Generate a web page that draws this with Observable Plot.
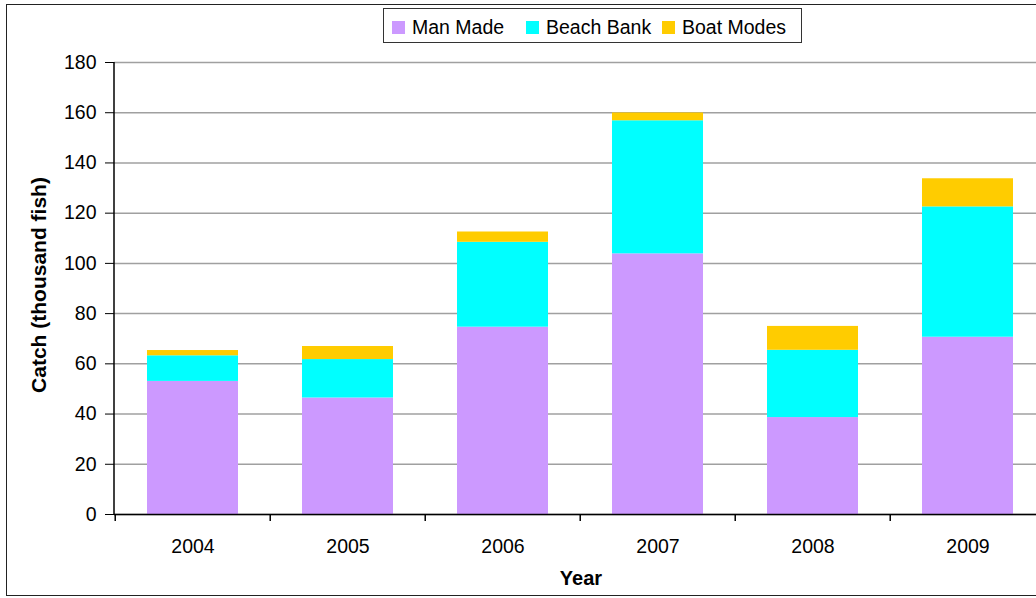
<!DOCTYPE html>
<html>
<head>
<meta charset="utf-8">
<script src="https://cdn.jsdelivr.net/npm/d3@7"></script>
<script src="https://cdn.jsdelivr.net/npm/@observablehq/plot@0.6"></script>
<style>
  html, body { margin: 0; padding: 0; background: #fff; overflow: hidden; }
  #wrap { position: relative; width: 1036px; height: 598px; overflow: hidden; font-family: "Liberation Sans", Arial, sans-serif; color: #000; }
  #frame { position: absolute; left: 6px; top: 4px; width: 1100px; height: 592px; box-sizing: border-box; border: 1.5px solid #222; pointer-events: none; }
  #chart { position: absolute; left: 0; top: 0; width: 1060px; height: 598px; }
  #chart svg { max-width: none !important; display: block; }
  .title { position: absolute; font-weight: bold; font-size: 20px; line-height: 20px; white-space: nowrap; }
  #legend { position: absolute; left: 383px; top: 8px; width: 419px; height: 35px; box-sizing: border-box; border: 1px solid #333; background: #fff; }
  .sw { position: absolute; width: 13px; height: 13px; top: 12px; }
  .lt { position: absolute; top: 8px; font-size: 19.5px; line-height: 20px; white-space: nowrap; }
</style>
</head>
<body>
<div id="wrap">
  <div id="chart"></div>
  <div id="legend"></div>
  <div class="title" id="ytitle" style="left:39px; top:285px; font-size:21px; transform: translate(-50%,-50%) rotate(-90deg);">Catch (thousand fish)</div>
  <div class="title" id="xtitle" style="left:581px; top:568px; transform: translateX(-50%);">Year</div>
  <div id="frame"></div>
</div>
<script>
const years = ["2004", "2005", "2006", "2007", "2008", "2009"];
const series = ["Man Made", "Beach Bank", "Boat Modes"];
const colors = ["#cc99ff", "#00ffff", "#ffcc00"];
const manMade   = [53.0, 46.4, 74.6, 103.8, 38.6, 70.6];
const beachBank = [10.2, 15.3, 33.8, 53.0, 26.8, 51.9];
const boatModes = [2.1, 5.2, 4.1, 3.1, 9.5, 11.2];
const yTicks = [0, 20, 40, 60, 80, 100, 120, 140, 160, 180];

const seriesValues = [manMade, beachBank, boatModes];
const data = [];
years.forEach((yr, i) => {
  series.forEach((s, j) => data.push({year: yr, series: s, value: seriesValues[j][i]}));
});

const chart = Plot.plot({
  width: 1060,
  height: 598,
  marginLeft: 114,
  marginRight: 13,
  marginTop: 62,
  marginBottom: 84,
  x: {domain: years, paddingInner: 0.41, paddingOuter: 0.205, label: null},
  y: {domain: [0, 180], label: null},
  color: {domain: series, range: colors},
  style: {fontFamily: "'Liberation Sans', Arial, sans-serif", fontSize: "19.5px", background: "transparent", color: "#000", maxWidth: "none"},
  marks: [
    Plot.gridY(yTicks, {stroke: "#a0a0a0", strokeOpacity: 1, strokeWidth: 1.5}),
    Plot.barY(data, {x: "year", y: "value", fill: "series"}),
    Plot.ruleY([0], {stroke: "#000", strokeWidth: 1.5}),
    Plot.axisY(yTicks, {tickSize: 9, tickPadding: 9, stroke: "#000", fill: "#000", fontSize: 19.5, label: null}),
    Plot.axisX({tickSize: 0, tickPadding: 25, fill: "#000", fontSize: 19.5, label: null})
  ]
});
document.getElementById("chart").appendChild(chart);

// axis line and category boundary ticks derived from the scales
const xs = chart.scale("x");
const ys = chart.scale("y");
const svg = d3.select(chart);
const x0 = xs.range[0];
const yTop = ys.apply(180), yBot = ys.apply(0);
svg.append("line").attr("x1", x0).attr("x2", x0).attr("y1", yTop).attr("y2", yBot + 0.75)
  .attr("stroke", "#000").attr("stroke-width", 1.5);
const half = xs.paddingInner * xs.step / 2;
const bounds = years.map(y => xs.apply(y) - half);
bounds.push(xs.apply(years[years.length - 1]) + xs.bandwidth + half);
bounds.forEach(b => {
  svg.append("line").attr("x1", b).attr("x2", b).attr("y1", yBot).attr("y2", yBot + 7)
    .attr("stroke", "#000").attr("stroke-width", 1.5);
});

// legend
const legend = document.getElementById("legend");
const legendX = [8, 142, 278];
series.forEach((s, i) => {
  const sw = document.createElement("div");
  sw.className = "sw";
  sw.style.left = legendX[i] + "px";
  sw.style.background = colors[i];
  legend.appendChild(sw);
  const t = document.createElement("div");
  t.className = "lt";
  t.style.left = (legendX[i] + 20) + "px";
  t.textContent = s;
  legend.appendChild(t);
});
</script>
</body>
</html>
